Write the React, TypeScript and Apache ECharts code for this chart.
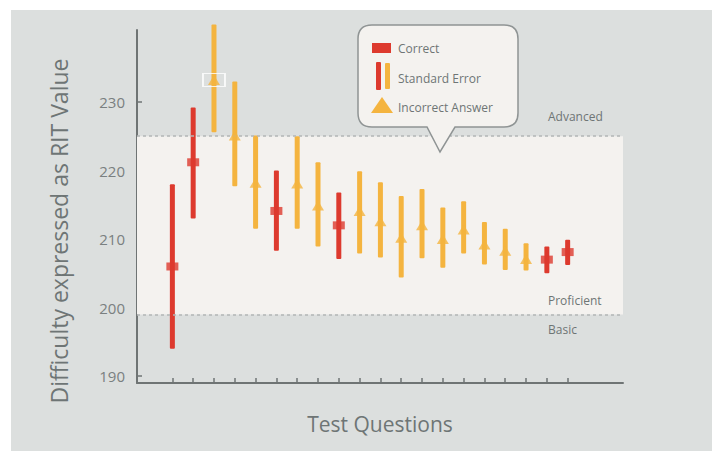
import React, { useEffect, useRef } from "react";
import * as echarts from "echarts";

// ---- data ----
const questions = [1, 2, 3, 4, 5, 6, 7, 8, 9, 10, 11, 12, 13, 14, 15, 16, 17, 18, 19, 20];
const outcome = [
  "correct", "correct", "incorrect", "incorrect", "incorrect", "correct", "incorrect", "incorrect", "correct", "incorrect",
  "incorrect", "incorrect", "incorrect", "incorrect", "incorrect", "incorrect", "incorrect", "incorrect", "correct", "correct",
];
const estimate = [206.0, 221.2, 233.2, 225.1, 218.2, 214.1, 218.1, 214.9, 212.0, 214.1, 212.6, 210.2, 212.0, 210.0, 211.4, 209.2, 208.3, 207.1, 207.0, 208.1];
const upper = [218.0, 229.2, 241.3, 233.0, 225.1, 220.0, 225.0, 221.2, 216.8, 219.9, 218.3, 216.3, 217.3, 214.6, 215.5, 212.5, 211.5, 209.4, 208.9, 209.9];
const lower = [194.0, 213.0, 225.6, 217.7, 211.5, 208.3, 211.5, 208.9, 207.1, 207.9, 207.3, 204.4, 207.2, 205.8, 207.9, 206.3, 205.5, 205.4, 205.0, 206.2];
const highlighted = [3];
const yTicks = [190, 200, 210, 220, 230];
const proficientBand = [199, 225];
const bandLabels = ["Advanced", "Proficient", "Basic"];
const legendLabels = ["Correct", "Standard Error", "Incorrect Answer"];

const RED = "#dd3a2e";
const ORANGE = "#f4b43f";
const BAND = "#f4f2ef";
const PANEL = "#dcdfde";
const TEXT = "#6e7575";
const AXIS = "#6f7474";
const FONT = "'Open Sans', 'Noto Sans', sans-serif";

const calloutPath =
  "M372 25 L504 25 Q518 25 518 39 L518 113 Q518 127 504 127 L455 127 L440 152 L427 127 L372 127 Q358 127 358 113 L358 39 Q358 25 372 25 Z";
echarts.graphic.registerShape("callout", echarts.graphic.extendPath(calloutPath, {}) as any);

export default function App() {
  const ref = useRef<HTMLDivElement>(null);

  useEffect(() => {
    document.body.style.margin = "0";
    if (!ref.current) return;
    const chart = echarts.init(ref.current, undefined, { renderer: "svg" });

    const barData = questions.map((q, i) => [q, lower[i], upper[i], outcome[i] === "correct" ? 1 : 0]);
    const correctData = questions
      .map((q, i) => (outcome[i] === "correct" ? [q, estimate[i]] : null))
      .filter(Boolean);
    const incorrectData = questions
      .map((q, i) => (outcome[i] === "incorrect" ? [q, estimate[i]] : null))
      .filter(Boolean);
    const highlightData = highlighted.map((q) => [q, estimate[questions.indexOf(q)]]);

    const option: any = {
      animation: false,
      backgroundColor: "transparent",
      grid: { left: 137, right: 94, top: 30, bottom: 68 },
      xAxis: {
        type: "value",
        min: -0.7,
        max: 22.66,
        name: "Test Questions",
        nameLocation: "middle",
        nameGap: 30,
        nameTextStyle: { color: TEXT, fontSize: 21, fontFamily: FONT },
        axisLine: { show: true, onZero: false, lineStyle: { color: AXIS, width: 2 } },
        axisTick: { show: true, inside: true, length: 5, customValues: questions, lineStyle: { color: AXIS, width: 1.5 } },
        axisLabel: { show: false },
        splitLine: { show: false },
      },
      yAxis: {
        type: "value",
        min: 189,
        max: 240.5,
        axisLine: { show: true, onZero: false, lineStyle: { color: AXIS, width: 2 } },
        axisTick: { show: true, inside: true, length: 5, customValues: yTicks, lineStyle: { color: AXIS, width: 1.5 } },
        axisLabel: { show: true, customValues: yTicks, color: "#7a8080", fontSize: 15, fontFamily: FONT, margin: 12 },
        splitLine: { show: false },
      },
      series: [
        {
          type: "line",
          data: [],
          z: 1,
          silent: true,
          markArea: {
            silent: true,
            itemStyle: { color: BAND },
            data: [[{ yAxis: proficientBand[0] }, { yAxis: proficientBand[1] }]],
          },
          markLine: {
            silent: true,
            symbol: "none",
            label: { show: false },
            lineStyle: { color: "#b3b7b6", type: [3, 3], width: 1.5 },
            data: [{ yAxis: proficientBand[0] }, { yAxis: proficientBand[1] }],
          },
        },
        {
          type: "custom",
          z: 3,
          clip: false,
          data: barData,
          renderItem: (params: any, api: any) => {
            const x = api.value(0);
            const lo = api.coord([x, api.value(1)]);
            const hi = api.coord([x, api.value(2)]);
            return {
              type: "rect",
              shape: { x: lo[0] - 2.5, y: hi[1], width: 5, height: lo[1] - hi[1], r: 1 },
              style: { fill: api.value(3) ? RED : ORANGE },
            };
          },
        },
        {
          type: "scatter",
          z: 4,
          data: highlightData,
          symbol: "rect",
          symbolSize: [22, 13],
          itemStyle: { color: "rgba(0,0,0,0)", borderColor: "#ffffff", borderWidth: 1.5 },
        },
        {
          type: "scatter",
          z: 5,
          data: correctData,
          symbol: "rect",
          symbolSize: [12, 8],
          itemStyle: { color: RED },
        },
        {
          type: "scatter",
          z: 5,
          data: incorrectData,
          symbol: "triangle",
          symbolSize: [12, 10],
          itemStyle: { color: ORANGE },
        },
      ],
      graphic: [
        {
          type: "text",
          z: 10,
          x: 59,
          y: 231,
          rotation: Math.PI / 2,
          style: {
            text: "Difficulty expressed as RIT Value",
            fill: TEXT,
            font: `23px ${FONT}`,
            textAlign: "center",
            textVerticalAlign: "middle",
          },
        },
        { type: "text", z: 10, x: 548, y: 116, style: { text: bandLabels[0], fill: TEXT, font: `12px ${FONT}`, textVerticalAlign: "middle" } },
        { type: "text", z: 10, x: 548, y: 300, style: { text: bandLabels[1], fill: TEXT, font: `12px ${FONT}`, textVerticalAlign: "middle" } },
        { type: "text", z: 10, x: 548, y: 329, style: { text: bandLabels[2], fill: TEXT, font: `12px ${FONT}`, textVerticalAlign: "middle" } },
        {
          type: "callout",
          x: 0,
          y: 0,
          z: 100,
          style: { fill: BAND, stroke: "#8f9494", lineWidth: 1.5 },
        },
        { type: "rect", z: 101, shape: { x: 372, y: 43, width: 19, height: 10 }, style: { fill: RED } },
        { type: "rect", z: 101, shape: { x: 376, y: 62, width: 5, height: 28, r: 1 }, style: { fill: RED } },
        { type: "rect", z: 101, shape: { x: 385, y: 63, width: 5, height: 26, r: 1 }, style: { fill: ORANGE } },
        { type: "polygon", z: 101, shape: { points: [[382, 97], [371, 113], [393, 113]] }, style: { fill: ORANGE } },
        { type: "text", z: 101, x: 398, y: 48, style: { text: legendLabels[0], fill: TEXT, font: `12px ${FONT}`, textVerticalAlign: "middle" } },
        { type: "text", z: 101, x: 398, y: 78, style: { text: legendLabels[1], fill: TEXT, font: `12px ${FONT}`, textVerticalAlign: "middle" } },
        { type: "text", z: 101, x: 398, y: 107, style: { text: legendLabels[2], fill: TEXT, font: `12px ${FONT}`, textVerticalAlign: "middle" } },
      ],
    };

    chart.setOption(option);
    return () => chart.dispose();
  }, []);

  return (
    <div style={{ position: "relative", width: 717, height: 451, background: "#ffffff", overflow: "hidden" }}>
      <div style={{ position: "absolute", left: 11, top: 10, width: 701, height: 441, background: PANEL }} />
      <div ref={ref} style={{ position: "absolute", left: 0, top: 0, width: 717, height: 451 }} />
    </div>
  );
}
